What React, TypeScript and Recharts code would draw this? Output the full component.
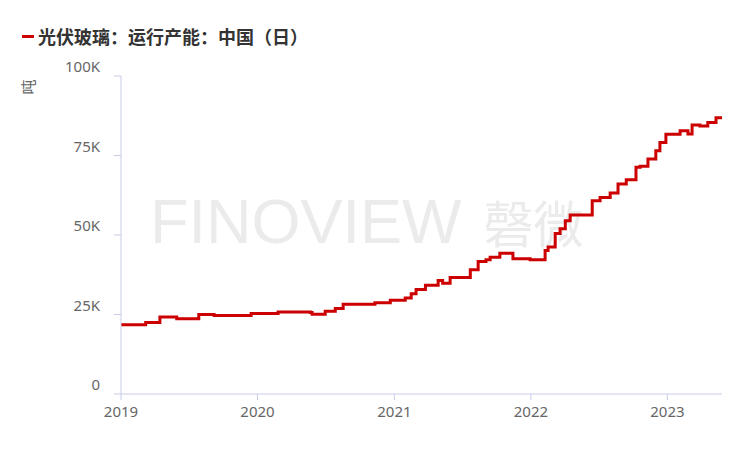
import React from "react";
import { LineChart, Line, XAxis, YAxis } from "recharts";

// 光伏玻璃 运行产能 (吨/日), step points
const dates = [
  "2019-01-01", "2019-03-08", "2019-04-15", "2019-05-30", "2019-07-28", "2019-09-07",
  "2019-12-15", "2020-02-25", "2020-05-21", "2020-05-26", "2020-06-30", "2020-07-27",
  "2020-08-17", "2020-11-10", "2020-12-21", "2021-01-30", "2021-02-15", "2021-02-28",
  "2021-03-25", "2021-04-28", "2021-05-10", "2021-05-30", "2021-07-23", "2021-08-13",
  "2021-09-03", "2021-09-14", "2021-10-10", "2021-11-14", "2021-12-30", "2022-02-08",
  "2022-02-16", "2022-03-07", "2022-03-20", "2022-04-03", "2022-04-16", "2022-06-14",
  "2022-07-05", "2022-08-01", "2022-08-22", "2022-09-13", "2022-10-09", "2022-10-20",
  "2022-11-10", "2022-12-01", "2022-12-12", "2022-12-28", "2023-02-04", "2023-02-25",
  "2023-03-08", "2023-03-29", "2023-04-19", "2023-05-11", "2023-05-27",
];
const capacity = [
  21800, 22500, 24200, 23700, 25000, 24700,
  25300, 25800, 25600, 25100, 26000, 26900,
  28200, 28700, 29500, 30200, 31500, 32900,
  34200, 35700, 34800, 36600, 39100, 41700,
  42200, 43000, 44300, 42500, 42200, 45100,
  46200, 50500, 52000, 54500, 56300, 60800,
  61800, 63200, 66000, 67400, 71300, 71600,
  73900, 76500, 79100, 81700, 82800, 81800,
  84600, 84300, 85400, 86900, 86900,
];
const yearTicks = ["2019-01-01", "2020-01-01", "2021-01-01", "2022-01-01", "2023-01-01"];
const yTicks = [0, 25000, 50000, 75000, 100000];

const seriesName = "光伏玻璃：运行产能：中国（日）";
const unit = "吨";

const toTs = (d: string) => new Date(d + "T00:00:00Z").getTime();
const data = dates.map((d, i) => ({ t: toTs(d), v: capacity[i] }));

const axisColor = "#c8cce8";
const textColor = "#666";

const YTick = (props: any) => {
  const { x, y, payload } = props;
  const v = payload.value;
  const label = v === 0 ? "0" : `${v / 1000}K`;
  return (
    <text x={x} y={y - 8} textAnchor="end" dominantBaseline="middle" fill={textColor} fontSize={15} fontFamily="Noto Sans, sans-serif">
      {label}
    </text>
  );
};

export default function App() {
  return (
    <div style={{ position: "fixed", left: 0, top: 0, width: 739, height: 449, background: "#fff" }}>
      <div
        style={{
          position: "absolute", left: 150, top: 190, color: "#ebebeb",
          fontFamily: "Liberation Sans, sans-serif", fontSize: 63, whiteSpace: "nowrap", lineHeight: 1,
        }}
      >
        FINOVIEW
        <span style={{ fontFamily: "Noto Sans CJK SC", fontSize: 50, marginLeft: 22 }}>磬微</span>
      </div>
      <div
        style={{
          position: "absolute", left: 22, top: 23, display: "flex", alignItems: "center",
          fontFamily: "Noto Sans CJK SC, sans-serif", fontWeight: 700, fontSize: 18, color: "#333",
        }}
      >
        <span style={{ display: "inline-block", width: 12, height: 3, background: "#cc0000", marginRight: 4 }} />
        {seriesName}
      </div>
      <div style={{ position: "absolute", left: 0, top: 0 }}>
        <LineChart width={739} height={449} data={data} margin={{ top: 76, right: 17, bottom: 25, left: 0 }}>
          <text
            x={30}
            y={87}
            transform="rotate(-90 30 87)"
            textAnchor="middle"
            dominantBaseline="middle"
            fill={textColor}
            fontSize={15}
            fontFamily="Noto Sans CJK SC"
          >
            {unit}
          </text>
          <XAxis
            dataKey="t"
            type="number"
            scale="time"
            height={30}
            domain={[toTs(dates[0]), toTs(dates[dates.length - 1])]}
            ticks={yearTicks.map(toTs)}
            tickFormatter={(t: number) => String(new Date(t).getUTCFullYear())}
            stroke={axisColor}
            tickSize={6}
            tick={{ fill: textColor, fontSize: 15, fontFamily: "Noto Sans, sans-serif" }}
            tickMargin={6}
            allowDataOverflow
          />
          <YAxis
            width={121}
            domain={[0, 100000]}
            ticks={yTicks}
            stroke={axisColor}
            tickSize={7}
            tickMargin={14}
            tick={<YTick />}
          />
          <Line
            type="stepAfter"
            dataKey="v"
            stroke="#cc0000"
            strokeWidth={3}
            dot={false}
            isAnimationActive={false}
          />
        </LineChart>
      </div>
    </div>
  );
}
